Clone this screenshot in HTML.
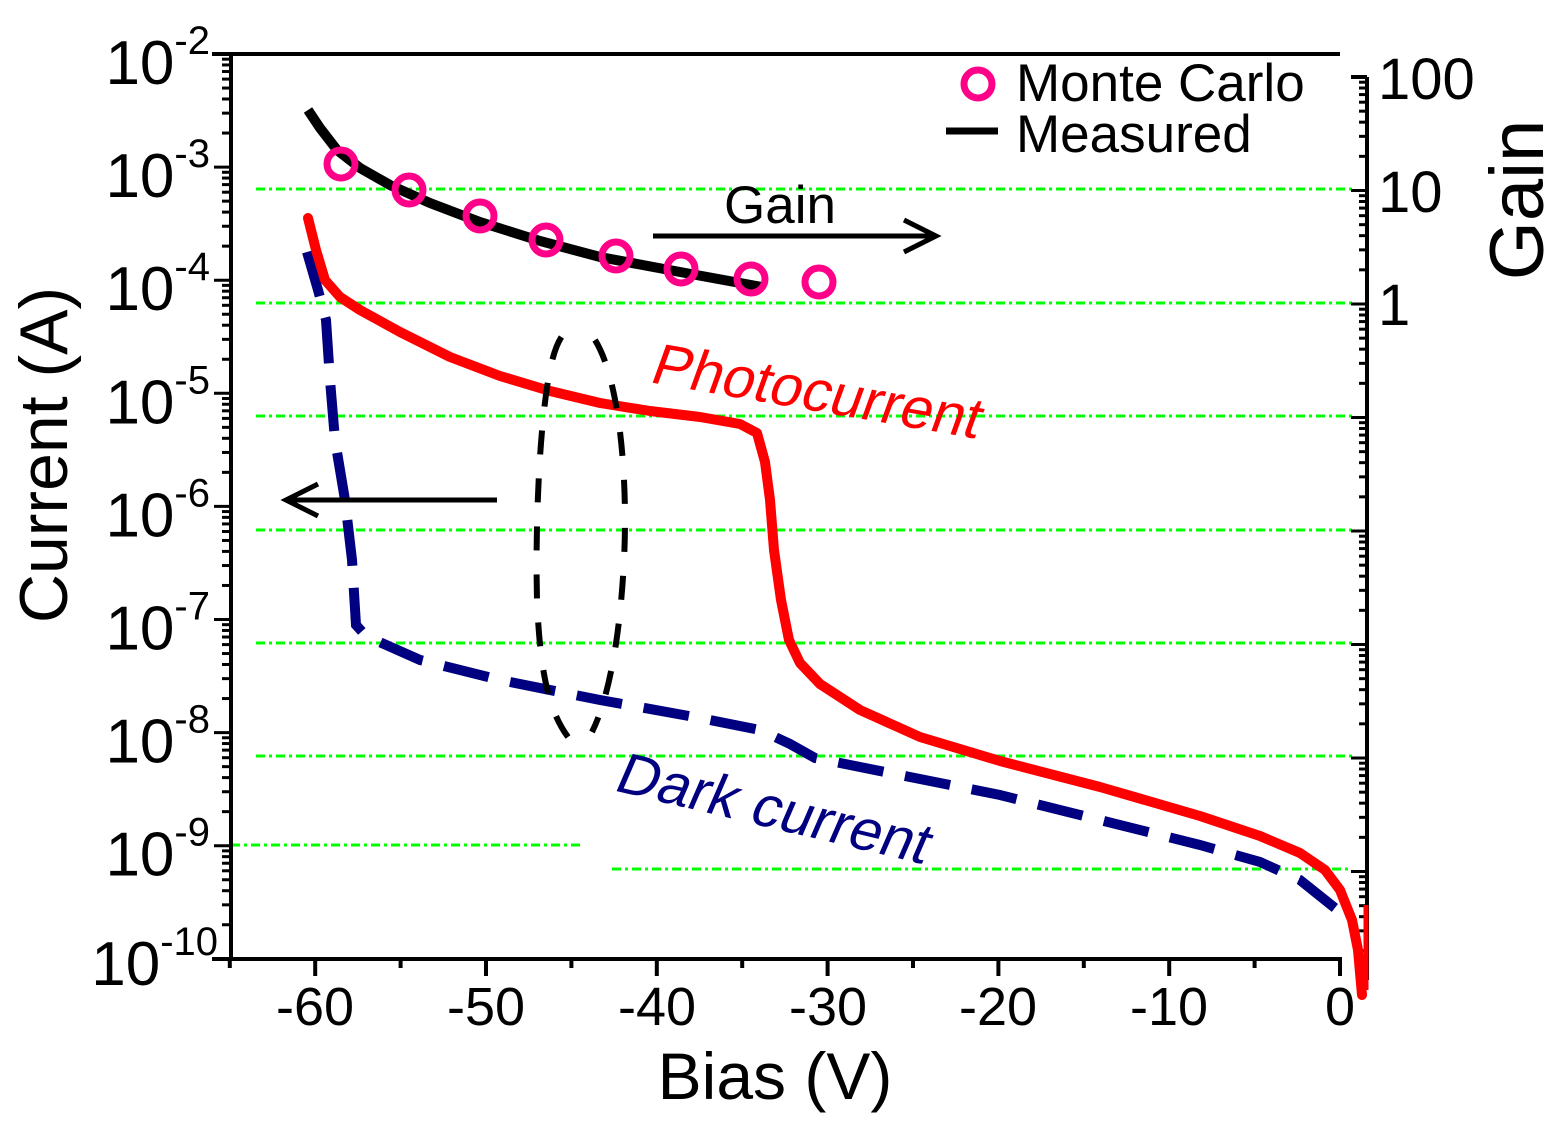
<!DOCTYPE html>
<html><head><meta charset="utf-8"><style>
html,body{margin:0;padding:0;background:#fff;}
svg{display:block;}
text{font-family:"Liberation Sans",Arial,sans-serif;}
</style></head><body>
<svg id="S" width="1565" height="1139" viewBox="0 0 1565 1139" xmlns="http://www.w3.org/2000/svg">
<g stroke="#00ff00" stroke-width="3" stroke-dasharray="9,4,3,4" fill="none">
<line x1="256" y1="189" x2="1352" y2="189"/>
<line x1="256" y1="303" x2="1352" y2="303"/>
<line x1="256" y1="416" x2="1352" y2="416"/>
<line x1="256" y1="530" x2="1352" y2="530"/>
<line x1="256" y1="643" x2="1352" y2="643"/>
<line x1="256" y1="756" x2="1352" y2="756"/>
<line x1="612" y1="869" x2="1352" y2="869"/>
<line x1="231" y1="845" x2="583" y2="845"/>
</g>
<g stroke="#000" fill="none" stroke-width="4">
<line x1="212" y1="54" x2="1340" y2="54"/>
<line x1="231" y1="54" x2="231" y2="961"/>
<line x1="212" y1="959" x2="1342" y2="959"/>
<line x1="1367" y1="77" x2="1367" y2="980"/>
<line x1="1351" y1="77" x2="1367" y2="77"/>
<line x1="1340" y1="959" x2="1340" y2="976"/>
</g>
<g id="lt" stroke="#000" stroke-width="3"></g>
<g id="bt" stroke="#000" stroke-width="4"></g>
<g id="rt" stroke="#000" stroke-width="3"></g>

<path d="M307,252 L318,290 L326,320 L330,380 L335,440 L345,500 L352,560 L356,625 L366,636 L420,660 L500,680 L600,700 L700,718 L760,730 L790,744 L815,758 L900,775 L1000,795 L1100,820 L1200,845 L1260,862 L1300,880 L1340,912" fill="none" stroke="#000080" stroke-width="10" stroke-dasharray="46,22"/>
<path d="M308,218 L316,250 L325,280 L340,297 L360,310 L400,332 L450,357 L500,376 L550,391 L600,403 L650,411 L700,417 L740,424 L757,433 L765,462 L770,500 L774,550 L781,600 L789,640 L800,663 L820,684 L860,710 L920,737 L1000,761 L1100,787 L1200,816 L1260,836 L1300,853 L1325,870 L1340,890 L1352,920 L1358,950 L1362,995" fill="none" stroke="#ff0000" stroke-width="10" stroke-linejoin="round" stroke-linecap="round"/>
<line x1="1366" y1="905" x2="1366" y2="990" stroke="#ff0000" stroke-width="5"/>
<path d="M595,340 C620,380 628,480 624,560 C620,640 608,700 592,732 M568,737 C548,710 540,670 537,600 C535,520 540,420 550,370 C556,340 565,330 570,330" fill="none" stroke="#000" stroke-width="6" stroke-dasharray="24,24"/>
<path d="M308,110 L320,128 L337,150 L360,168 L390,185 L430,203 L480,222 L540,241 L600,257 L680,272 L762,287" fill="none" stroke="#000" stroke-width="10"/>
<g fill="none" stroke="#ff0088" stroke-width="7">
<circle cx="341" cy="164" r="14"/><circle cx="409" cy="190" r="14"/><circle cx="480" cy="216" r="14"/><circle cx="546" cy="240" r="14"/><circle cx="616" cy="256" r="14"/><circle cx="681" cy="269" r="14"/><circle cx="751" cy="279" r="14"/><circle cx="819" cy="282" r="14"/>
<circle cx="978" cy="84" r="14"/>
</g>
<line x1="946" y1="131" x2="998" y2="131" stroke="#000" stroke-width="7"/>
<g stroke="#000" stroke-width="5" fill="none">
<line x1="497" y1="500" x2="288" y2="500"/><polyline points="318,484 286,500 318,516"/>
<line x1="653" y1="236" x2="934" y2="236"/><polyline points="904,220 936,236 904,252"/>
</g>
<g font-size="53" fill="#000">
<text x="1016" y="101">Monte Carlo</text>
<text x="1016" y="152">Measured</text>
<text x="724" y="223">Gain</text>
</g>
<text x="0" y="0" font-size="58" fill="#ff0000" transform="translate(648,382) rotate(9.8) skewX(-10)">Photocurrent</text>
<text x="0" y="0" font-size="58" fill="#000080" transform="translate(612,790) rotate(13.4) skewX(-10)">Dark current</text>
<g font-size="62" fill="#000" text-anchor="end" id="ll"></g>
<g font-size="54" fill="#000" text-anchor="middle">
<text x="315" y="1025">-60</text><text x="486" y="1025">-50</text><text x="657" y="1025">-40</text><text x="828" y="1025">-30</text><text x="998" y="1025">-20</text><text x="1169" y="1025">-10</text><text x="1340" y="1025">0</text>
</g>
<g font-size="58" fill="#000">
<text x="1378" y="99">100</text><text x="1378" y="212">10</text><text x="1378" y="325">1</text>
</g>
<text x="775" y="1099" font-size="66" text-anchor="middle">Bias (V)</text>
<text transform="translate(67,455) rotate(-90)" font-size="68" text-anchor="middle">Current (A)</text>
<text transform="translate(1543,200) rotate(-90)" font-size="76" text-anchor="middle">Gain</text>
</svg>
<script>
(function(){
var ns="http://www.w3.org/2000/svg";
function L(g,x1,y1,x2,y2){var l=document.createElementNS(ns,"line");l.setAttribute("x1",x1);l.setAttribute("y1",y1);l.setAttribute("x2",x2);l.setAttribute("y2",y2);document.getElementById(g).appendChild(l);}
var d=113.1,T0=54;
for(var k=0;k<8;k++){var y0=T0+k*d;L("lt",214,y0,231,y0);
 for(var m=2;m<10;m++){var y=y0+d-(Math.log10(m))*d;L("lt",222,y,231,y);} }
L("lt",214,959,231,959);
var ll=document.getElementById("ll");
for(var e=2;e<=10;e++){var y=T0+(e-2)*d+(e==10?26:30);var t=document.createElementNS(ns,"text");t.setAttribute("x",e==10?218:210);t.setAttribute("y",y);
 t.appendChild(document.createTextNode("10"));
 var s=document.createElementNS(ns,"tspan");s.setAttribute("font-size","40");s.setAttribute("dy","-30");s.appendChild(document.createTextNode("-"+e));t.appendChild(s);ll.appendChild(t);}
for(var v=-65;v<=0;v+=5){var x=1340+17.08*v;L("bt",x,959,x,(v%10==0)?976:968);}
var rd=113.5,R0=77;
for(var k=0;k<8;k++){var y0=R0+k*rd;L("rt",1351,y0,1367,y0);
 for(var m=2;m<10;m++){var y=y0+rd-(Math.log10(m))*rd;if(y<980)L("rt",1359,y,1367,y);} }
})();
</script>
</body></html>
